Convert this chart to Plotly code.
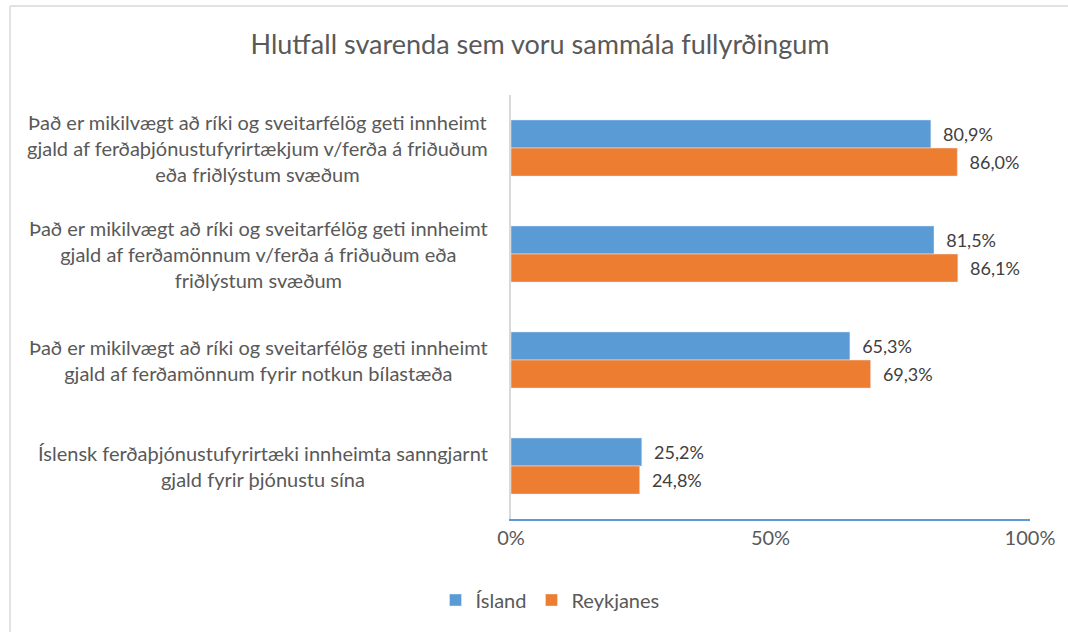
import plotly.graph_objects as go

categories = [
    "Það er mikilvægt að ríki og sveitarfélög geti innheimt<br>gjald af ferðaþjónustufyrirtækjum v/ferða á friðuðum<br>eða friðlýstum svæðum",
    "Það er mikilvægt að ríki og sveitarfélög geti innheimt<br>gjald af ferðamönnum v/ferða á friðuðum eða<br>friðlýstum svæðum",
    "Það er mikilvægt að ríki og sveitarfélög geti innheimt<br>gjald af ferðamönnum fyrir notkun bílastæða",
    "Íslensk ferðaþjónustufyrirtæki innheimta sanngjarnt<br>gjald fyrir þjónustu sína",
]
island = [80.9, 81.5, 65.3, 25.2]
reykjanes = [86.0, 86.1, 69.3, 24.8]
tick_vals = [0, 50, 100]
tick_text = ["0%", "50%", "100%"]

FONT = "Lato"
GREY = "#595959"
W, H = 1068, 632
ML, MR, MT, MB = 511, 38, 95, 113
PW, PH = W - ML - MR, H - MT - MB


def px_x(x):
    return (x - ML) / PW


def px_y(y):
    return (H - MB - y) / PH


fig = go.Figure()
fig.add_trace(go.Bar(
    y=categories, x=island, orientation="h", name="Ísland",
    marker=dict(color="#5b9bd5"),
    texttemplate="\u00a0\u00a0%{x:.1f}%", textposition="outside",
    textfont=dict(size=18, color="#404040", family=FONT), cliponaxis=False,
))
fig.add_trace(go.Bar(
    y=categories, x=reykjanes, orientation="h", name="Reykjanes",
    marker=dict(color="#ed7d31"),
    texttemplate="\u00a0\u00a0%{x:.1f}%", textposition="outside",
    textfont=dict(size=18, color="#404040", family=FONT), cliponaxis=False,
))

for c in categories:
    fig.add_annotation(
        x=0, y=c, xref="paper", yref="y", text=c, showarrow=False,
        xanchor="right", yanchor="middle", align="center", xshift=-21,
        font=dict(size=20, color=GREY, family=FONT),
    )

fig.update_layout(
    width=W, height=H,
    paper_bgcolor="white", plot_bgcolor="white",
    separators=", ",
    barmode="group", bargap=0.47, bargroupgap=0,
    margin=dict(l=ML, r=MR, t=MT, b=MB),
    title=dict(text="Hlutfall svarenda sem voru sammála fullyrðingum",
               x=540 / W, xref="container", xanchor="center",
               y=1 - 45 / H, yref="container", yanchor="middle",
               font=dict(size=27, color=GREY, family=FONT)),
    xaxis=dict(range=[0, 100], tickvals=tick_vals, ticktext=tick_text,
               showgrid=False, zeroline=False, showline=True,
               linecolor="#5b9bd5", linewidth=2, ticks="",
               tickfont=dict(size=20, color=GREY, family=FONT)),
    yaxis=dict(autorange="reversed", showticklabels=False, showgrid=False,
               zeroline=False, showline=True, linecolor="#d9d9d9", linewidth=1.5,
               ticks=""),
    legend=dict(orientation="h", x=550 / W, xref="container", xanchor="center",
                y=1 - 600 / H, yref="container", yanchor="middle",
                font=dict(size=20, color=GREY, family=FONT), traceorder="normal"),
    showlegend=True,
    shapes=[
        dict(type="line", xref="paper", yref="paper",
             x0=px_x(10), x1=px_x(W + 5), y0=px_y(6), y1=px_y(6),
             line=dict(color="#d9d9d9", width=1.5)),
        dict(type="line", xref="paper", yref="paper",
             x0=px_x(10), x1=px_x(10), y0=px_y(6), y1=px_y(H + 5),
             line=dict(color="#d9d9d9", width=1.5)),
    ],
)

fig.write_html("out.html", config={"displayModeBar": False},
               post_script="document.body.style.margin='0';")
